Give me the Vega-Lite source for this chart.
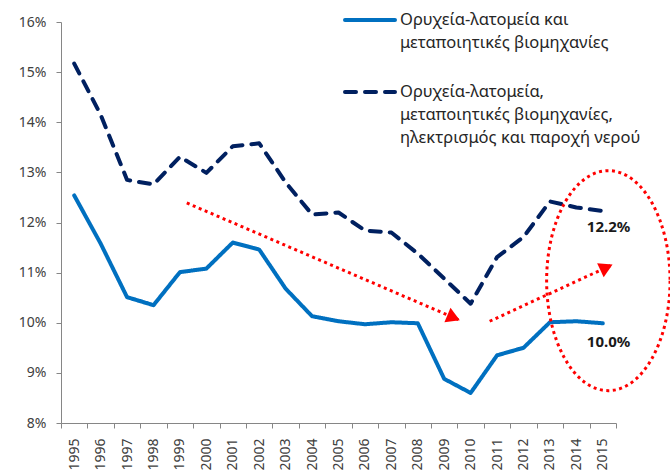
{
  "$schema": "https://vega.github.io/schema/vega-lite/v6.json",
  "width": 555,
  "height": 401,
  "autosize": {"type": "none"},
  "padding": {"left": 61, "top": 22, "right": 54, "bottom": 51},
  "background": "white",
  "config": {
    "view": {"stroke": null},
    "font": "Noto Sans",
    "axis": {"grid": false, "domainColor": "#868686", "tickColor": "#868686", "labelColor": "#404040", "labelFont": "Noto Sans", "labelFontSize": 14, "tickSize": 5, "title": null, "labelOverlap": false},
    "axisX": {"labelOverlap": false}
  },
  "layer": [
    {
      "data": {"values": [
        {"year": 1995, "Ορυχεία-λατομεία και μεταποιητικές βιομηχανίες": 0.1254, "Ορυχεία-λατομεία, μεταποιητικές βιομηχανίες, ηλεκτρισμός και παροχή νερού": 0.1517},
        {"year": 1996, "Ορυχεία-λατομεία και μεταποιητικές βιομηχανίες": 0.1158, "Ορυχεία-λατομεία, μεταποιητικές βιομηχανίες, ηλεκτρισμός και παροχή νερού": 0.1415},
        {"year": 1997, "Ορυχεία-λατομεία και μεταποιητικές βιομηχανίες": 0.1051, "Ορυχεία-λατομεία, μεταποιητικές βιομηχανίες, ηλεκτρισμός και παροχή νερού": 0.1285},
        {"year": 1998, "Ορυχεία-λατομεία και μεταποιητικές βιομηχανίες": 0.1035, "Ορυχεία-λατομεία, μεταποιητικές βιομηχανίες, ηλεκτρισμός και παροχή νερού": 0.1276},
        {"year": 1999, "Ορυχεία-λατομεία και μεταποιητικές βιομηχανίες": 0.1101, "Ορυχεία-λατομεία, μεταποιητικές βιομηχανίες, ηλεκτρισμός και παροχή νερού": 0.1331},
        {"year": 2000, "Ορυχεία-λατομεία και μεταποιητικές βιομηχανίες": 0.1108, "Ορυχεία-λατομεία, μεταποιητικές βιομηχανίες, ηλεκτρισμός και παροχή νερού": 0.1299},
        {"year": 2001, "Ορυχεία-λατομεία και μεταποιητικές βιομηχανίες": 0.1160, "Ορυχεία-λατομεία, μεταποιητικές βιομηχανίες, ηλεκτρισμός και παροχή νερού": 0.1352},
        {"year": 2002, "Ορυχεία-λατομεία και μεταποιητικές βιομηχανίες": 0.1146, "Ορυχεία-λατομεία, μεταποιητικές βιομηχανίες, ηλεκτρισμός και παροχή νερού": 0.1358},
        {"year": 2003, "Ορυχεία-λατομεία και μεταποιητικές βιομηχανίες": 0.1068, "Ορυχεία-λατομεία, μεταποιητικές βιομηχανίες, ηλεκτρισμός και παροχή νερού": 0.1280},
        {"year": 2004, "Ορυχεία-λατομεία και μεταποιητικές βιομηχανίες": 0.1013, "Ορυχεία-λατομεία, μεταποιητικές βιομηχανίες, ηλεκτρισμός και παροχή νερού": 0.1216},
        {"year": 2005, "Ορυχεία-λατομεία και μεταποιητικές βιομηχανίες": 0.1003, "Ορυχεία-λατομεία, μεταποιητικές βιομηχανίες, ηλεκτρισμός και παροχή νερού": 0.1220},
        {"year": 2006, "Ορυχεία-λατομεία και μεταποιητικές βιομηχανίες": 0.0997, "Ορυχεία-λατομεία, μεταποιητικές βιομηχανίες, ηλεκτρισμός και παροχή νερού": 0.1184},
        {"year": 2007, "Ορυχεία-λατομεία και μεταποιητικές βιομηχανίες": 0.1001, "Ορυχεία-λατομεία, μεταποιητικές βιομηχανίες, ηλεκτρισμός και παροχή νερού": 0.1180},
        {"year": 2008, "Ορυχεία-λατομεία και μεταποιητικές βιομηχανίες": 0.0999, "Ορυχεία-λατομεία, μεταποιητικές βιομηχανίες, ηλεκτρισμός και παροχή νερού": 0.1138},
        {"year": 2009, "Ορυχεία-λατομεία και μεταποιητικές βιομηχανίες": 0.0888, "Ορυχεία-λατομεία, μεταποιητικές βιομηχανίες, ηλεκτρισμός και παροχή νερού": 0.1088},
        {"year": 2010, "Ορυχεία-λατομεία και μεταποιητικές βιομηχανίες": 0.0860, "Ορυχεία-λατομεία, μεταποιητικές βιομηχανίες, ηλεκτρισμός και παροχή νερού": 0.1038},
        {"year": 2011, "Ορυχεία-λατομεία και μεταποιητικές βιομηχανίες": 0.0935, "Ορυχεία-λατομεία, μεταποιητικές βιομηχανίες, ηλεκτρισμός και παροχή νερού": 0.1131},
        {"year": 2012, "Ορυχεία-λατομεία και μεταποιητικές βιομηχανίες": 0.0950, "Ορυχεία-λατομεία, μεταποιητικές βιομηχανίες, ηλεκτρισμός και παροχή νερού": 0.1171},
        {"year": 2013, "Ορυχεία-λατομεία και μεταποιητικές βιομηχανίες": 0.1001, "Ορυχεία-λατομεία, μεταποιητικές βιομηχανίες, ηλεκτρισμός και παροχή νερού": 0.1242},
        {"year": 2014, "Ορυχεία-λατομεία και μεταποιητικές βιομηχανίες": 0.1003, "Ορυχεία-λατομεία, μεταποιητικές βιομηχανίες, ηλεκτρισμός και παροχή νερού": 0.1230},
        {"year": 2015, "Ορυχεία-λατομεία και μεταποιητικές βιομηχανίες": 0.0999, "Ορυχεία-λατομεία, μεταποιητικές βιομηχανίες, ηλεκτρισμός και παροχή νερού": 0.1223}
      ]},
      "transform": [
        {"fold": ["Ορυχεία-λατομεία και μεταποιητικές βιομηχανίες", "Ορυχεία-λατομεία, μεταποιητικές βιομηχανίες, ηλεκτρισμός και παροχή νερού"], "as": ["series", "value"]}
      ],
      "mark": {"type": "line", "strokeWidth": 4, "strokeCap": "round", "strokeJoin": "round"},
      "encoding": {
        "x": {
          "field": "year", "type": "quantitative",
          "scale": {"domain": [1994.5, 2015.5], "nice": false, "zero": false},
          "axis": {
            "values": [1994.5, 1995.5, 1996.5, 1997.5, 1998.5, 1999.5, 2000.5, 2001.5, 2002.5, 2003.5, 2004.5, 2005.5, 2006.5, 2007.5, 2008.5, 2009.5, 2010.5, 2011.5, 2012.5, 2013.5, 2014.5, 2015.5],
            "tickCount": 30,
            "labelExpr": "datum.value < 2015 ? format(datum.value + 0.5, 'd') : ''",
            "labelOffset": 13.2,
            "labelAngle": 270,
            "labelAlign": "right",
            "labelBaseline": "middle",
            "labelPadding": 10,
            "labelFlush": false,
            "labelOverlap": false,
            "labelBound": false
          }
        },
        "y": {
          "field": "value", "type": "quantitative",
          "scale": {"domain": [0.08, 0.16], "nice": false, "zero": false},
          "axis": {"values": [0.08, 0.09, 0.10, 0.11, 0.12, 0.13, 0.14, 0.15, 0.16], "tickCount": 20, "format": ".0%", "labelPadding": 10}
        },
        "color": {
          "field": "series", "type": "nominal",
          "scale": {"domain": ["Ορυχεία-λατομεία και μεταποιητικές βιομηχανίες", "Ορυχεία-λατομεία, μεταποιητικές βιομηχανίες, ηλεκτρισμός και παροχή νερού"], "range": ["#0070C0", "#002060"]},
          "legend": {
            "orient": "none", "legendX": 282, "legendY": -29, "title": null, "padding": 0,
            "symbolType": "stroke", "symbolSize": 2500, "symbolStrokeWidth": 4,
            "labelFont": "Noto Sans", "labelFontSize": 16.5, "labelColor": "#262626", "labelLimit": 400, "labelOffset": 3,
            "rowPadding": 14, "labelBaseline": "line-top",
            "labelExpr": "datum.label == 'Ορυχεία-λατομεία και μεταποιητικές βιομηχανίες' ? ['Ορυχεία-λατομεία και', 'μεταποιητικές βιομηχανίες'] : ['Ορυχεία-λατομεία,', 'μεταποιητικές βιομηχανίες,', 'ηλεκτρισμός και παροχή νερού']",
            "encode": {"labels": {"update": {"lineHeight": {"value": 23}, "dy": {"value": -11.5}}}, "symbols": {"update": {"strokeCap": {"value": "round"}}}}
          }
        },
        "strokeDash": {
          "field": "series", "type": "nominal",
          "scale": {"domain": ["Ορυχεία-λατομεία και μεταποιητικές βιομηχανίες", "Ορυχεία-λατομεία, μεταποιητικές βιομηχανίες, ηλεκτρισμός και παροχή νερού"], "range": [[1, 0], [11, 9]]},
          "legend": {
            "orient": "none", "legendX": 282, "legendY": -29, "title": null, "padding": 0,
            "symbolType": "stroke", "symbolSize": 2500, "symbolStrokeWidth": 4,
            "labelFont": "Noto Sans", "labelFontSize": 16.5, "labelColor": "#262626", "labelLimit": 400, "labelOffset": 3,
            "rowPadding": 14, "labelBaseline": "line-top",
            "labelExpr": "datum.label == 'Ορυχεία-λατομεία και μεταποιητικές βιομηχανίες' ? ['Ορυχεία-λατομεία και', 'μεταποιητικές βιομηχανίες'] : ['Ορυχεία-λατομεία,', 'μεταποιητικές βιομηχανίες,', 'ηλεκτρισμός και παροχή νερού']",
            "encode": {"labels": {"update": {"lineHeight": {"value": 23}, "dy": {"value": -11.5}}}, "symbols": {"update": {"strokeCap": {"value": "round"}}}}
          }
        }
      }
    },
    {
      "data": {"values": [
        {"x1": 1999.26, "y1": 0.1239, "x2": 2009.59, "y2": 0.1005},
        {"x1": 2010.72, "y1": 0.1003, "x2": 2015.37, "y2": 0.1116}
      ]},
      "mark": {"type": "rule", "color": "#FF0000", "strokeWidth": 3, "strokeDash": [3, 3.5]},
      "encoding": {
        "x": {"field": "x1", "type": "quantitative"},
        "y": {"field": "y1", "type": "quantitative"},
        "x2": {"field": "x2"},
        "y2": {"field": "y2"}
      }
    },
    {
      "data": {"values": [{"x": 2009.59, "y": 0.1005}]},
      "mark": {"type": "point", "shape": "M 0,0 L -1.732,-1 L -1.732,1 Z", "size": 240, "filled": true, "color": "#FF0000", "opacity": 1, "angle": 23},
      "encoding": {"x": {"field": "x", "type": "quantitative"}, "y": {"field": "y", "type": "quantitative"}}
    },
    {
      "data": {"values": [{"x": 2015.37, "y": 0.1116}]},
      "mark": {"type": "point", "shape": "M 0,0 L -1.732,-1 L -1.732,1 Z", "size": 240, "filled": true, "color": "#FF0000", "opacity": 1, "angle": 335},
      "encoding": {"x": {"field": "x", "type": "quantitative"}, "y": {"field": "y", "type": "quantitative"}}
    },
    {
      "data": {"values": [{"x": 2015.21, "y": 0.1084}]},
      "mark": {"type": "point", "shape": "M 0.561,0 C 0.561,0.5523 0.3098,1 0,1 C -0.3098,1 -0.561,0.5523 -0.561,0 C -0.561,-0.5523 -0.3098,-1 0,-1 C 0.3098,-1 0.561,-0.5523 0.561,0 Z", "size": 48400, "filled": false, "stroke": "#FF0000", "strokeWidth": 3, "strokeDash": [3, 3.5], "opacity": 1},
      "encoding": {"x": {"field": "x", "type": "quantitative"}, "y": {"field": "y", "type": "quantitative"}}
    },
    {
      "data": {"values": [
        {"x": 2015.22, "y": 0.1192, "label": "12.2%"},
        {"x": 2015.22, "y": 0.0961, "label": "10.0%"}
      ]},
      "mark": {"type": "text", "fontSize": 15, "fontWeight": "bold", "color": "#1a1a1a", "align": "center", "baseline": "middle", "font": "Noto Sans"},
      "encoding": {"x": {"field": "x", "type": "quantitative"}, "y": {"field": "y", "type": "quantitative"}, "text": {"field": "label"}}
    }
  ]
}
